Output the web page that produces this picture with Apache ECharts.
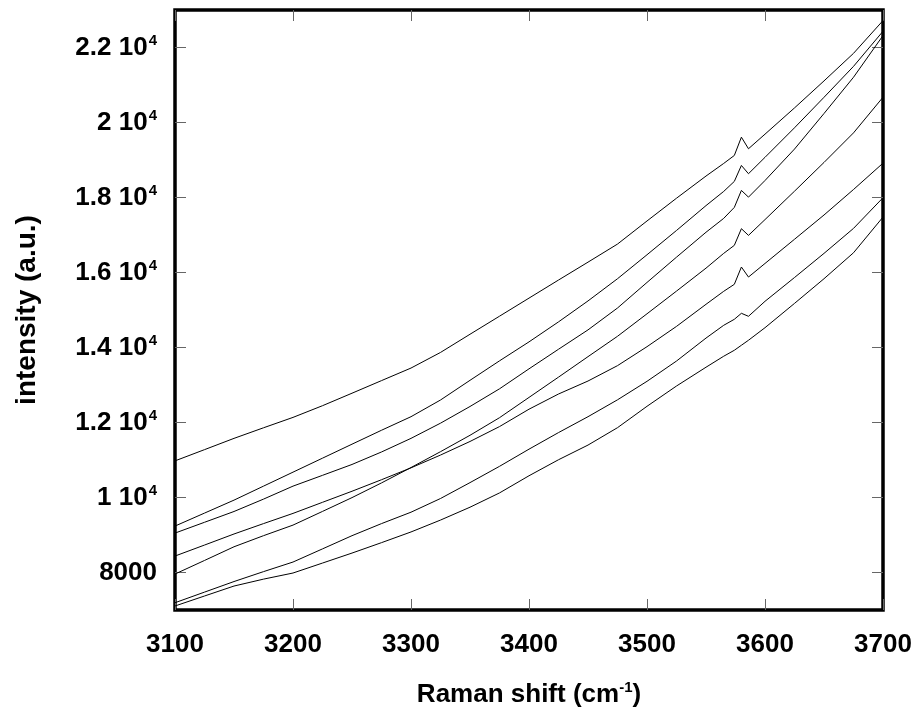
<!DOCTYPE html>
<html>
<head>
<meta charset="utf-8">
<script src="https://cdn.jsdelivr.net/npm/echarts@6/dist/echarts.min.js"></script>
<style>
  html, body { margin: 0; padding: 0; background: #fff; }
  #chart { width: 918px; height: 719px; }
</style>
</head>
<body>
<div id="chart"></div>
<script>
// Raman shift sample positions (cm-1)
const shift = [3100, 3125, 3150, 3175, 3200, 3225, 3250, 3275, 3300, 3325, 3350, 3375, 3400, 3425,
  3450, 3475, 3500, 3525, 3550, 3565, 3574, 3580, 3586, 3600, 3625, 3650, 3675, 3700]

// intensities, one array per spectrum (top to bottom at 3700)
const spec1 = [10977, 11276, 11577, 11859, 12136, 12448, 12781, 13117, 13452, 13868, 14353, 14835, 15317, 15799,
  16276, 16758, 17374, 17981, 18572, 18908, 19121, 19609, 19300, 19689, 20389, 21109, 21844, 22718]
const spec2 = [9238, 9584, 9930, 10303, 10676, 11049, 11422, 11793, 12155, 12600, 13125, 13644, 14150, 14683,
  15242, 15834, 16473, 17121, 17784, 18162, 18429, 18855, 18634, 19071, 19859, 20672, 21497, 22433]
const spec3 = [9051, 9339, 9627, 9957, 10303, 10591, 10881, 11214, 11577, 11982, 12427, 12898, 13431, 13953,
  14470, 15053, 15735, 16409, 17073, 17443, 17736, 18189, 18010, 18453, 19292, 20240, 21207, 22318]
const spec4 = [7959, 8321, 8686, 8982, 9264, 9629, 9997, 10389, 10799, 11222, 11659, 12128, 12669, 13210,
  13756, 14299, 14899, 15504, 16116, 16510, 16724, 17168, 16990, 17411, 18168, 18935, 19723, 20674]
const spec5 = [8439, 8732, 9027, 9304, 9576, 9872, 10167, 10474, 10791, 11132, 11494, 11891, 12355, 12760,
  13106, 13516, 14022, 14563, 15152, 15498, 15685, 16146, 15879, 16241, 16886, 17533, 18213, 18916]
const spec6 = [7194, 7477, 7759, 8023, 8279, 8630, 8982, 9304, 9608, 9973, 10397, 10831, 11289, 11731,
  12155, 12605, 13098, 13639, 14251, 14592, 14752, 14912, 14832, 15232, 15866, 16510, 17176, 17994]
const spec7 = [7107, 7373, 7639, 7823, 7986, 8252, 8518, 8796, 9081, 9398, 9741, 10122, 10580, 11007,
  11398, 11862, 12432, 12973, 13474, 13767, 13926, 14060, 14193, 14528, 15176, 15834, 16526, 17478]

const yTicks = [8000, 10000, 12000, 14000, 16000, 18000, 20000, 22000]

const FONT = 'Liberation Sans, Arial, sans-serif'
const chart = echarts.init(document.getElementById('chart'))

const tickStyle = { inside: true, length: 11, lineStyle: { color: '#666', width: 1 } }
const labelText = { fontSize: 26, fontWeight: 'bold', color: '#000', fontFamily: FONT }

function makeSeries(data, i) {
  return {
    name: 'spectrum ' + (i + 1),
    type: 'line',
    showSymbol: false,
    data: shift.map((x, k) => [x, data[k]]),
    lineStyle: { color: '#000', width: 1 },
    silent: true
  }
}

chart.setOption({
  animation: false,
  grid: {
    left: 175, right: 35, top: 10, bottom: 109,
    show: true, borderColor: '#000', borderWidth: 3.5
  },
  xAxis: [
    {
      type: 'value', min: 3100, max: 3700, interval: 100,
      axisLine: { show: false },
      axisTick: tickStyle,
      splitLine: { show: false },
      axisLabel: Object.assign({ margin: 22, formatter: v => String(v) }, labelText),
      name: '{t|Raman shift (cm}{s|-1}{t|)}',
      nameLocation: 'middle',
      nameGap: 70,
      nameTextStyle: {
        rich: {
          t: labelText,
          s: { fontSize: 15, fontWeight: 'bold', color: '#000', fontFamily: FONT, padding: [0, 0, 14, 0] }
        }
      }
    },
    {
      type: 'value', min: 3100, max: 3700, interval: 100, position: 'top',
      axisLine: { show: false },
      axisTick: tickStyle,
      splitLine: { show: false },
      axisLabel: { show: false }
    }
  ],
  yAxis: [
    {
      type: 'value', min: 7000, max: 23000,
      axisLine: { show: false },
      axisTick: Object.assign({ customValues: yTicks }, tickStyle),
      splitLine: { show: false },
      axisLabel: {
        customValues: yTicks,
        margin: 18,
        formatter: v => v >= 10000 ? '{m|' + (v / 10000) + ' 10}{e|4}' : '{m|' + v + '}',
        rich: {
          m: labelText,
          e: { fontSize: 15, fontWeight: 'bold', color: '#000', fontFamily: FONT, padding: [0, 0, 14, 1] }
        }
      },
      name: 'intensity (a.u.)',
      nameLocation: 'middle',
      nameGap: 134,
      nameTextStyle: Object.assign({}, labelText, { fontSize: 28 })
    },
    {
      type: 'value', min: 7000, max: 23000, position: 'right',
      axisLine: { show: false },
      axisTick: Object.assign({ customValues: yTicks }, tickStyle),
      splitLine: { show: false },
      axisLabel: { show: false }
    }
  ],
  series: [spec1, spec2, spec3, spec4, spec5, spec6, spec7].map(makeSeries)
})
</script>
</body>
</html>
